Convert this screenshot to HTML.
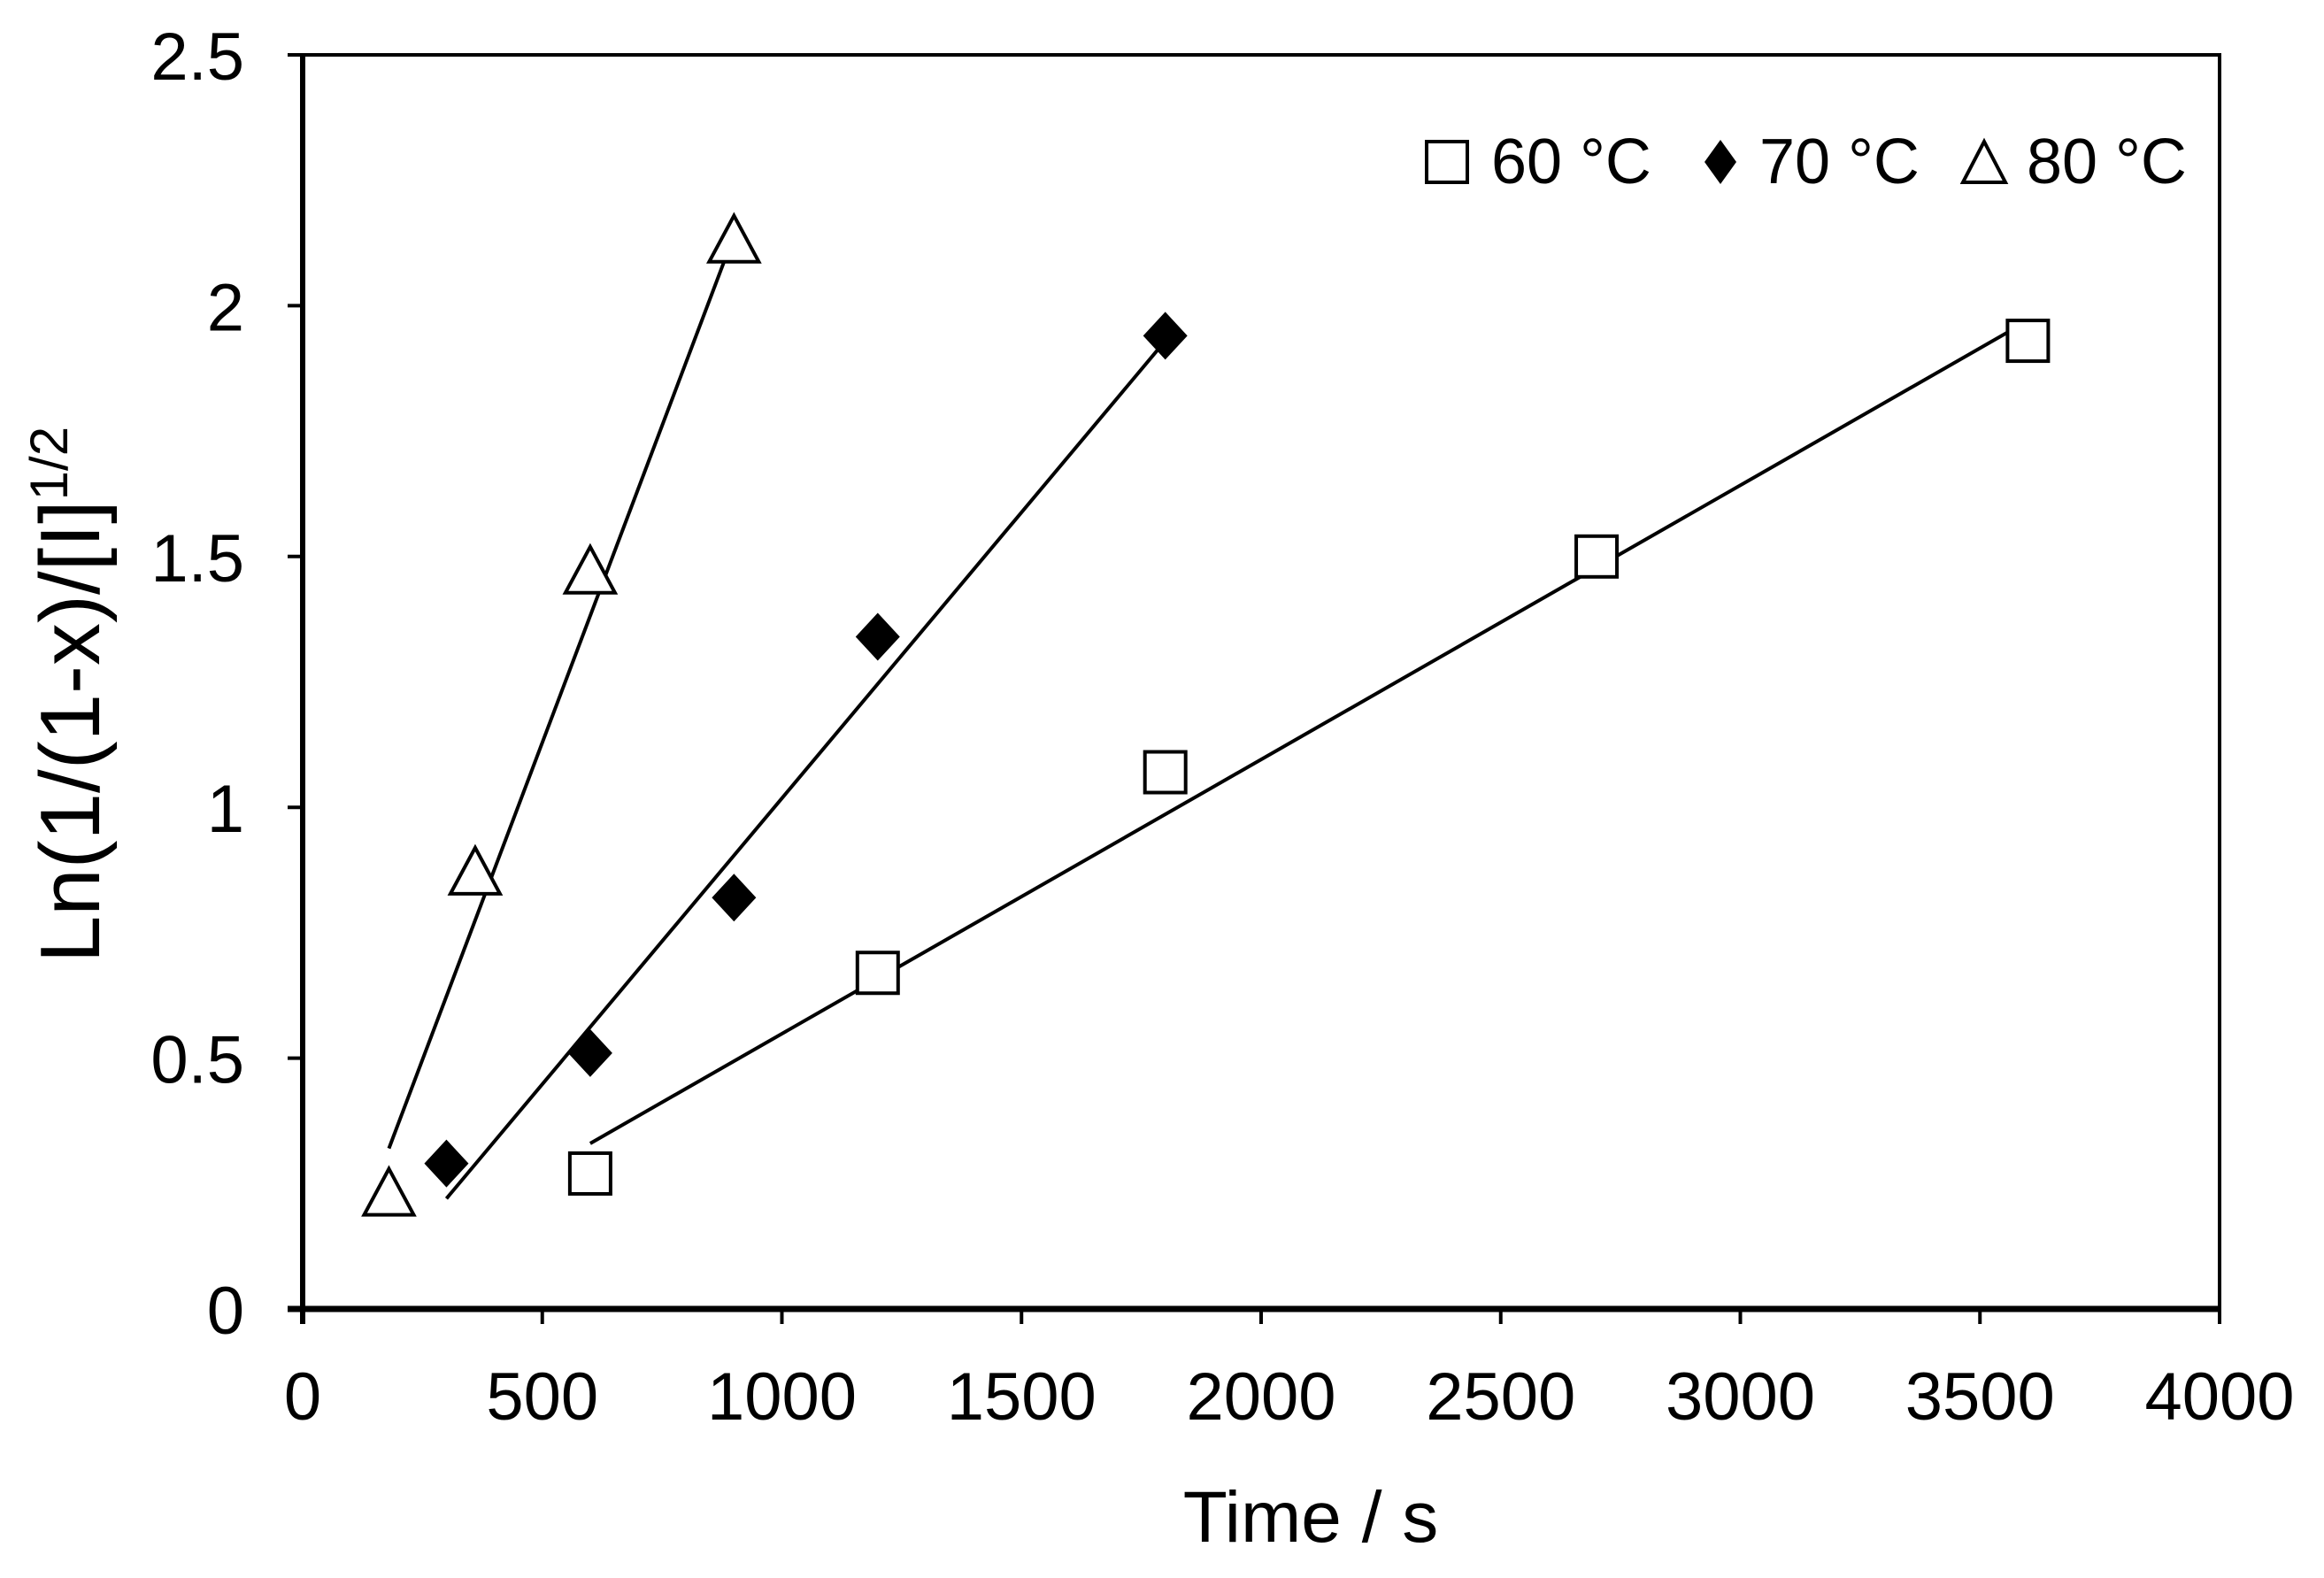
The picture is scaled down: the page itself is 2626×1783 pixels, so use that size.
<!DOCTYPE html>
<html><head><meta charset="utf-8"><style>
html,body{margin:0;padding:0;background:#fff}
svg{display:block;font-family:"Liberation Sans",Arial,sans-serif}
</style></head><body>
<svg id="chart" width="2626" height="1783" viewBox="0 0 2626 1783" xmlns="http://www.w3.org/2000/svg">
<g id="axes"></g>
<g id="series"></g>
<text x="1481" y="1742" font-size="82" text-anchor="middle">Time / s</text>
<text transform="translate(112,785) rotate(-90)" font-size="96" text-anchor="middle">Ln(1/(1-x)/[I]<tspan dy="-36" font-size="60">1/2</tspan></text>
<g>
<rect x="1612" y="160" width="46" height="46" fill="#fff" stroke="#000" stroke-width="4"/>
<text x="1685" y="207" font-size="72">60 °C</text>
<polygon points="1944,158 1962,183 1944,208 1926,183" fill="#000"/>
<text x="1988" y="207" font-size="72">70 °C</text>
<polygon points="2242,160 2266,206 2218,206" fill="#fff" stroke="#000" stroke-width="4"/>
<text x="2290" y="207" font-size="72">80 °C</text>
</g>
</svg>
<script>
const xTicks=[0,500,1000,1500,2000,2500,3000,3500,4000];
const yTicks=[0,0.5,1,1.5,2,2.5];
const yTickLabels=["0","0.5","1","1.5","2","2.5"];
const t60=[600,1200,1800,2700,3600];
const v60=[0.27,0.67,1.07,1.50,1.93];
const fit60=[[600,0.33],[3600,1.97]];
const t70=[300,600,900,1200,1800];
const v70=[0.29,0.51,0.82,1.34,1.94];
const fit70=[[300,0.22],[1800,1.93]];
const t80=[180,360,600,900];
const v80=[0.23,0.87,1.47,2.13];
const fit80=[[180,0.32],[900,2.14]];

const L=342,R=2508,T=62,B=1479;
const X=v=>L+(v/4000)*(R-L);
const Y=v=>B-(v/2.5)*(B-T);
const NS="http://www.w3.org/2000/svg";
function mk(tag,attrs,parent){const e=document.createElementNS(NS,tag);for(const k in attrs)e.setAttribute(k,attrs[k]);parent.appendChild(e);return e;}
const ax=document.getElementById('axes'),se=document.getElementById('series');
let e=mk('rect',{x:L,y:T,width:R-L,height:B-T,fill:'none',stroke:'#000','stroke-width':4},ax);


let xa=mk('line',{x1:L-17,x2:R,y1:B,y2:B,stroke:'#000','stroke-width':7},ax);


let ya=mk('line',{x1:L,x2:L,y1:T,y2:B+17,stroke:'#000','stroke-width':6},ax);


xTicks.forEach(v=>{
 let t=mk('line',{x1:X(v),x2:X(v),y1:B,y2:B+17,stroke:'#000','stroke-width':4},ax);
 
 
 let l=mk('text',{x:X(v),y:1604,'font-size':76,'text-anchor':'middle'},ax);l.textContent=v;
 
 
});
yTicks.forEach((v,i)=>{
 let t=mk('line',{x1:L-17,x2:L,y1:Y(v),y2:Y(v),stroke:'#000','stroke-width':4},ax);
 
 
 let l=mk('text',{x:276,y:Y(v)+28,'font-size':76,'text-anchor':'end'},ax);l.textContent=yTickLabels[i];
 
 
});
function fit(f,name){let l=mk('line',{x1:X(f[0][0]),y1:Y(f[0][1]),x2:X(f[1][0]),y2:Y(f[1][1]),stroke:'#000','stroke-width':4},se);
 
 }
fit(fit60,'fit-line-60');fit(fit70,'fit-line-70');fit(fit80,'fit-line-80');
t60.forEach((t,i)=>{const x=X(t),y=Y(v60[i]);
 let m=mk('rect',{x:x-23,y:y-23,width:46,height:46,fill:'#fff',stroke:'#000','stroke-width':4},se);
 
 });
t70.forEach((t,i)=>{const x=X(t),y=Y(v70[i]);
 let m=mk('polygon',{points:`${x},${y-27} ${x+25},${y} ${x},${y+27} ${x-25},${y}`,fill:'#000'},se);
 
 });
t80.forEach((t,i)=>{const x=X(t),y=Y(v80[i]);
 let m=mk('polygon',{points:`${x},${y-28} ${x+28},${y+24} ${x-28},${y+24}`,fill:'#fff',stroke:'#000','stroke-width':4},se);
 
 });
</script>
</body></html>
